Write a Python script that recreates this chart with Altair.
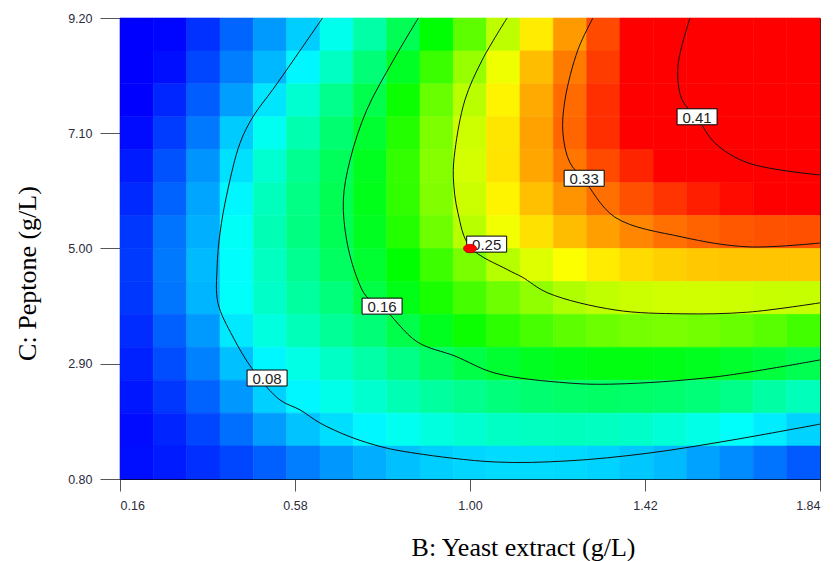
import altair as alt
import pandas as pd

# ---- grid of the response surface ----
x_centers = [0.20, 0.28, 0.36, 0.44, 0.52, 0.60, 0.68, 0.76, 0.84, 0.92, 1.00,
             1.08, 1.16, 1.24, 1.32, 1.40, 1.48, 1.56, 1.64, 1.72, 1.80]
y_centers = [8.9, 8.3, 7.7, 7.1, 6.5, 5.9, 5.3, 4.7, 4.1, 3.5, 2.9, 2.3, 1.7, 1.1]
x_half = 0.04
y_half = 0.30

row_8_9 = [-0.01, 0.002, 0.018, 0.037, 0.056, 0.075, 0.10, 0.125, 0.155, 0.185, 0.22, 0.255, 0.286, 0.316, 0.345, 0.372, 0.397, 0.42, 0.44, 0.455, 0.47]
row_8_3 = [-0.01, 0.005, 0.025, 0.046, 0.067, 0.09, 0.115, 0.143, 0.173, 0.207, 0.241, 0.273, 0.303, 0.327, 0.35, 0.376, 0.404, 0.425, 0.443, 0.458, 0.47]
row_7_7 = [-0.002, 0.014, 0.034, 0.058, 0.084, 0.11, 0.135, 0.158, 0.19, 0.224, 0.254, 0.283, 0.31, 0.333, 0.355, 0.378, 0.40, 0.42, 0.438, 0.452, 0.464]
row_7_1 = [0.004, 0.022, 0.044, 0.074, 0.098, 0.122, 0.145, 0.168, 0.199, 0.232, 0.261, 0.288, 0.313, 0.335, 0.355, 0.374, 0.392, 0.41, 0.426, 0.44, 0.452]
row_6_5 = [0.01, 0.03, 0.054, 0.082, 0.11, 0.133, 0.153, 0.175, 0.205, 0.235, 0.263, 0.289, 0.311, 0.329, 0.345, 0.359, 0.372, 0.385, 0.397, 0.411, 0.422]
row_5_9 = [0.015, 0.036, 0.06, 0.09, 0.117, 0.138, 0.156, 0.177, 0.204, 0.233, 0.26, 0.283, 0.302, 0.318, 0.331, 0.343, 0.353, 0.361, 0.368, 0.373, 0.377]
row_5_3 = [0.02, 0.042, 0.064, 0.096, 0.12, 0.139, 0.155, 0.174, 0.199, 0.226, 0.253, 0.274, 0.29, 0.303, 0.314, 0.323, 0.331, 0.336, 0.34, 0.342, 0.343]
row_4_7 = [0.021, 0.044, 0.068, 0.094, 0.116, 0.133, 0.151, 0.168, 0.186, 0.208, 0.23, 0.252, 0.267, 0.278, 0.286, 0.292, 0.296, 0.299, 0.30, 0.30, 0.30]
row_4_1 = [0.02, 0.043, 0.066, 0.095, 0.113, 0.128, 0.141, 0.161, 0.178, 0.195, 0.211, 0.226, 0.239, 0.25, 0.256, 0.26, 0.262, 0.262, 0.261, 0.259, 0.258]
row_3_5 = [0.016, 0.035, 0.056, 0.085, 0.105, 0.119, 0.131, 0.143, 0.159, 0.175, 0.19, 0.202, 0.212, 0.22, 0.225, 0.229, 0.23, 0.228, 0.224, 0.218, 0.21]
row_2_9 = [0.012, 0.028, 0.047, 0.07, 0.09, 0.103, 0.114, 0.125, 0.137, 0.149, 0.16, 0.168, 0.174, 0.178, 0.18, 0.18, 0.178, 0.175, 0.17, 0.164, 0.157]
row_2_3 = [0.008, 0.02, 0.036, 0.055, 0.076, 0.09, 0.101, 0.111, 0.12, 0.128, 0.135, 0.141, 0.145, 0.148, 0.149, 0.148, 0.146, 0.142, 0.136, 0.126, 0.118]
row_1_7 = [0.004, 0.013, 0.025, 0.04, 0.057, 0.071, 0.081, 0.09, 0.098, 0.105, 0.11, 0.114, 0.116, 0.117, 0.116, 0.113, 0.108, 0.102, 0.095, 0.086, 0.077]
row_1_1 = [0.005, 0.01, 0.017, 0.025, 0.035, 0.046, 0.055, 0.063, 0.07, 0.075, 0.078, 0.08, 0.08, 0.079, 0.077, 0.073, 0.068, 0.059, 0.051, 0.042, 0.033]
rows = [row_8_9, row_8_3, row_7_7, row_7_1, row_6_5, row_5_9, row_5_3,
        row_4_7, row_4_1, row_3_5, row_2_9, row_2_3, row_1_7, row_1_1]

# ---- contour lines (x, y pairs) ----
c008_x = [0.646, 0.576, 0.527, 0.479, 0.448, 0.417, 0.400, 0.393, 0.395, 0.431, 0.479, 0.544, 0.592, 0.640, 0.712, 0.791, 0.868, 1.060, 1.235, 1.427, 1.629, 1.840]
c008_y = [9.20, 8.43, 7.90, 7.40, 6.92, 6.01, 5.28, 4.66, 4.01, 3.39, 2.79, 2.24, 2.06, 1.82, 1.57, 1.38, 1.27, 1.11, 1.13, 1.27, 1.51, 1.80]
c016_x = [0.876, 0.816, 0.752, 0.712, 0.696, 0.704, 0.728, 0.752, 0.790, 0.873, 0.964, 1.060, 1.235, 1.348, 1.588, 1.840]
c016_y = [9.20, 8.43, 7.52, 6.61, 5.88, 5.15, 4.48, 4.12, 3.93, 3.30, 3.04, 2.73, 2.55, 2.53, 2.66, 2.97]
c025_x = [1.089, 1.029, 0.988, 0.964, 0.960, 0.971, 1.000, 1.091, 1.125, 1.187, 1.348, 1.509, 1.667, 1.840]
c025_y = [9.20, 8.43, 7.71, 6.79, 6.30, 5.65, 5.03, 4.61, 4.48, 4.19, 3.88, 3.81, 3.84, 4.01]
c033_x = [1.295, 1.259, 1.228, 1.223, 1.240, 1.271, 1.348, 1.509, 1.667, 1.840]
c033_y = [9.20, 8.62, 7.71, 7.10, 6.56, 6.28, 5.57, 5.21, 5.03, 5.10]
c041_x = [1.528, 1.499, 1.509, 1.545, 1.588, 1.667, 1.840]
c041_y = [9.20, 8.31, 7.71, 7.38, 6.92, 6.56, 6.34]

contour_levels = ["0.08", "0.16", "0.25", "0.33", "0.41"]
contour_xs = [c008_x, c016_x, c025_x, c033_x, c041_x]
contour_ys = [c008_y, c016_y, c025_y, c033_y, c041_y]

# label boxes on the contours
label_text = ["0.08", "0.16", "0.25", "0.33", "0.41"]
label_x = [0.513, 0.789, 1.040, 1.274, 1.545]
label_y = [2.64, 3.95, 5.08, 6.28, 7.40]

# design centre point
point_x = [1.00]
point_y = [5.00]

x_ticks = [0.16, 0.58, 1.00, 1.42, 1.84]
y_ticks = [0.80, 2.90, 5.00, 7.10, 9.20]

# ---- tables ----
cells = []
for yc, vals in zip(y_centers, rows):
    for xc, z in zip(x_centers, vals):
        cells.append({"x0": xc - x_half, "x1": xc + x_half,
                      "y0": yc - y_half, "y1": yc + y_half, "z": z})
cells = pd.DataFrame(cells)

lines = []
for lev, xs, ys in zip(contour_levels, contour_xs, contour_ys):
    for k, (a, b) in enumerate(zip(xs, ys)):
        lines.append({"level": lev, "order": k, "x": a, "y": b})
lines = pd.DataFrame(lines)

labels = pd.DataFrame({"t": label_text, "x": label_x, "y": label_y})
pts = pd.DataFrame({"x": point_x, "y": point_y})

xs = alt.Scale(domain=[0.16, 1.84], nice=False, zero=False)
ys = alt.Scale(domain=[0.80, 9.20], nice=False, zero=False)

cscale = alt.Scale(domain=[0.0, 0.093, 0.186, 0.279, 0.372],
                   range=["#0000ff", "#00ffff", "#00ff00", "#ffff00", "#ff0000"],
                   interpolate="rgb", clamp=True)

x_axis = alt.Axis(values=x_ticks, format=".2f", title="B: Yeast extract (g/L)",
                  grid=False, tickSize=12, tickColor="#555", domainColor="#000",
                  labelFont="Liberation Sans", labelFontSize=12.5, labelColor="#2b2b3b",
                  labelPadding=8,
                  titleFont="Liberation Serif", titleFontSize=26, titleFontWeight="normal",
                  titleColor="#000", titleX=403, titleY=76, titleAlign="center",
                  titleBaseline="alphabetic")
y_axis = alt.Axis(values=y_ticks, format=".2f", title="C: Peptone (g/L)",
                  grid=False, tickSize=20, tickColor="#555", domainColor="#000",
                  labelFont="Liberation Sans", labelFontSize=12.5, labelColor="#2b2b3b",
                  labelPadding=8,
                  titleFont="Liberation Serif", titleFontSize=26, titleFontWeight="normal",
                  titleColor="#000", titleX=-85, titleY=255, titleAngle=270,
                  titleAlign="center", titleBaseline="alphabetic")

heat = alt.Chart(cells).mark_rect(strokeWidth=0.6).encode(
    x=alt.X("x0:Q", scale=xs, axis=x_axis),
    x2="x1:Q",
    y=alt.Y("y0:Q", scale=ys, axis=y_axis),
    y2="y1:Q",
    color=alt.Color("z:Q", scale=cscale, legend=None),
    stroke=alt.Stroke("z:Q", scale=cscale, legend=None),
)

contours = alt.Chart(lines).mark_line(color="#111", strokeWidth=1,
                                      interpolate="catmull-rom", clip=True).encode(
    x=alt.X("x:Q", scale=xs),
    y=alt.Y("y:Q", scale=ys),
    detail="level:N",
    order="order:Q",
)

boxes = alt.Chart(labels).mark_rect(width=40, height=16, fill="white",
                                    stroke="#000", strokeWidth=1).encode(
    x=alt.X("x:Q", scale=xs),
    y=alt.Y("y:Q", scale=ys),
)

texts = alt.Chart(labels).mark_text(font="Liberation Sans", fontSize=15,
                                    color="#222", align="center",
                                    baseline="middle", dy=1).encode(
    x=alt.X("x:Q", scale=xs),
    y=alt.Y("y:Q", scale=ys),
    text="t:N",
)

dot = alt.Chart(pts).mark_point(
    shape="M-1,0A1,0.65,0,1,0,1,0A1,0.65,0,1,0,-1,0Z",
    size=169, filled=True, fill="#ff0000", stroke="#c00000", strokeWidth=0.8,
    opacity=1,
).encode(
    x=alt.X("x:Q", scale=xs),
    y=alt.Y("y:Q", scale=ys),
)

chart = alt.layer(heat, contours, boxes, texts, dot).properties(
    width=700, height=461,
    autosize=alt.AutoSizeParams(type="none"),
    padding={"left": 112, "top": 10, "right": 7, "bottom": 82},
).configure_view(stroke="#222", strokeWidth=1)

chart.save("out.html", embed_options={"renderer": "svg", "actions": False})
